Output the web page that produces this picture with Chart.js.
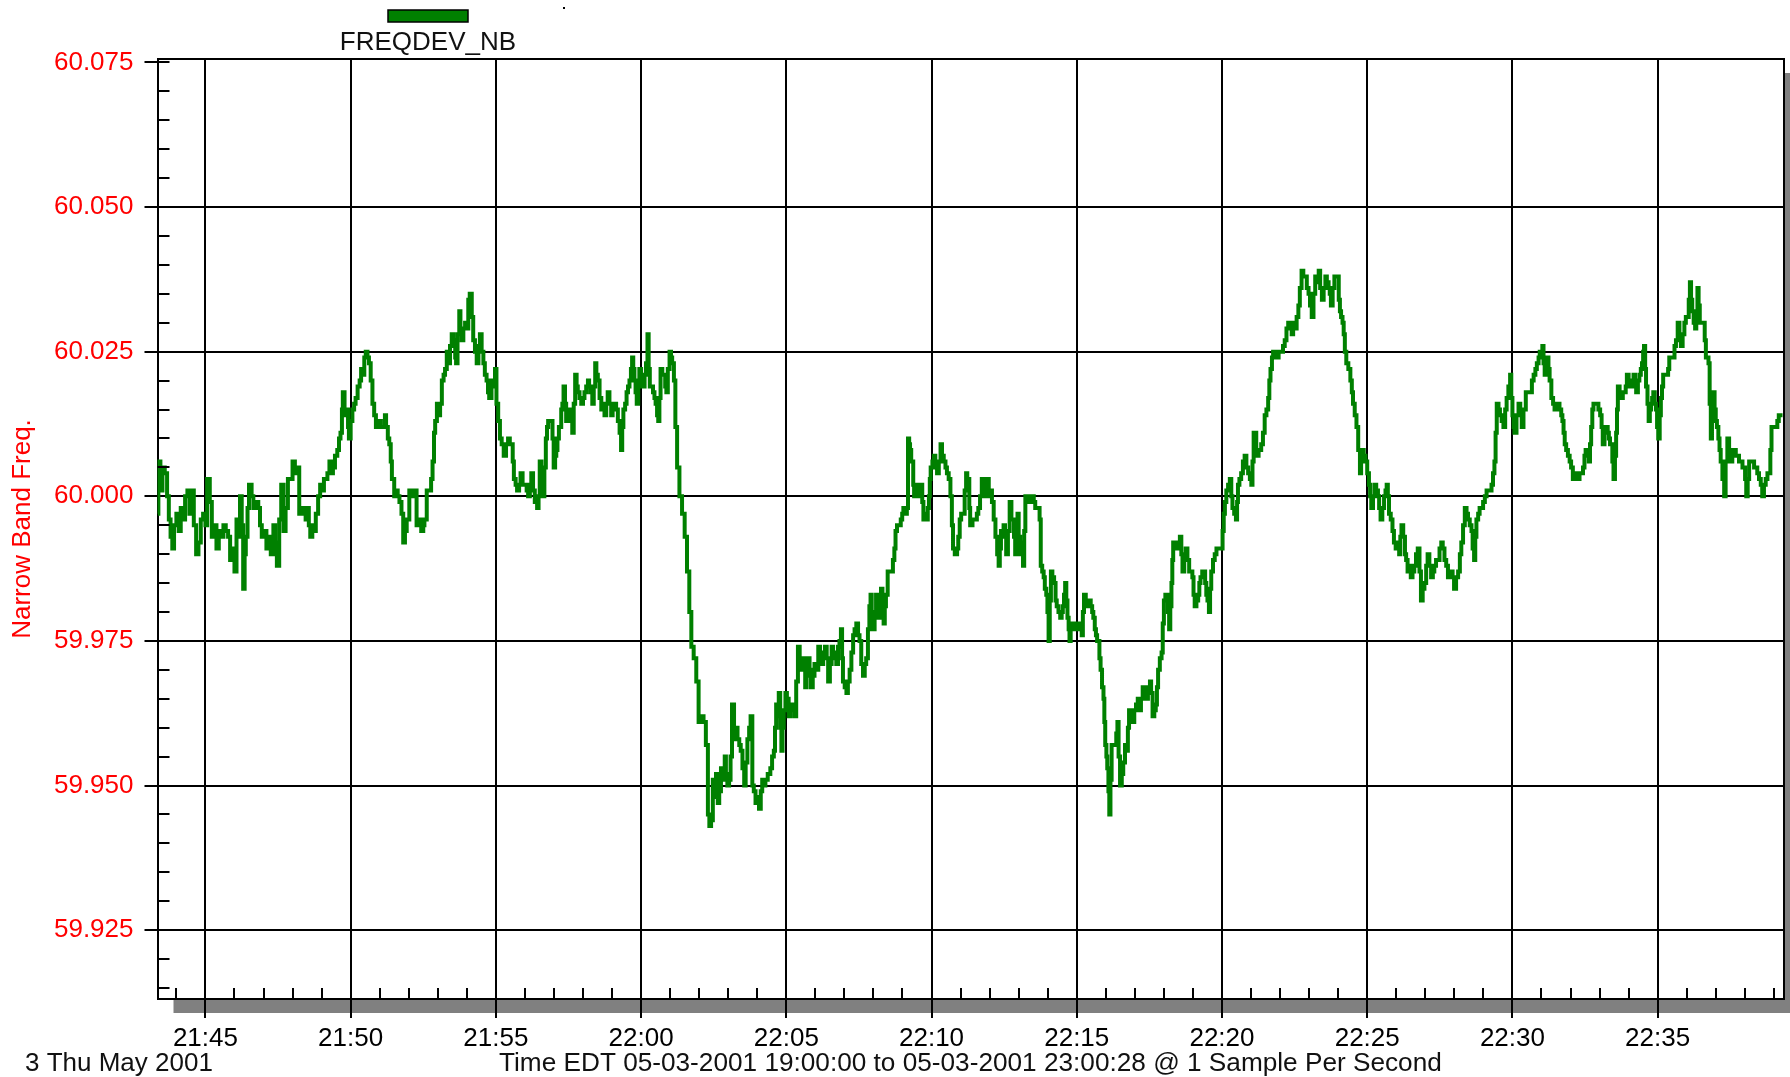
<!DOCTYPE html>
<html>
<head>
<meta charset="utf-8">
<title>FREQDEV_NB</title>
<script src="https://cdn.jsdelivr.net/npm/chart.js@4.4.1/dist/chart.umd.min.js"></script>
<style>
  html, body { margin: 0; padding: 0; background: #fff; }
  #grafico { display: block; }
</style>
</head>
<body>
<canvas id="grafico" width="1790" height="1077"></canvas>
<script>
// ============================================
// FREQDEV_NB - frequência banda estreita
// ============================================

// minutos depois das 21:00 (leitura do gráfico)
const minutos = [
    43.36, 43.38, 43.45, 43.52, 43.60, 43.68, 43.74, 43.80, 43.86, 43.92,
    44.00, 44.08, 44.15, 44.22, 44.30, 44.38, 44.45, 44.52, 44.60, 44.68,
    44.76, 44.84, 44.92, 45.00, 45.06, 45.15, 45.22, 45.30, 45.38, 45.46,
    45.55, 45.62, 45.70, 45.78, 45.85, 45.92, 46.00, 46.07, 46.15, 46.19,
    46.25, 46.30, 46.35, 46.39, 46.45, 46.50, 46.59, 46.65, 46.72, 46.82,
    46.88, 46.94, 47.02, 47.10, 47.18, 47.25, 47.34, 47.40, 47.46, 47.54,
    47.61, 47.69, 47.76, 47.84, 47.92, 48.00, 48.08, 48.15, 48.23, 48.30,
    48.38, 48.45, 48.50, 48.56, 48.61, 48.68, 48.73, 48.80, 48.88, 48.95,
    49.02, 49.08, 49.13, 49.20, 49.27, 49.33, 49.39, 49.46, 49.54, 49.60,
    49.65, 49.70, 49.73, 49.79, 49.85, 49.91, 49.94, 50.00, 50.06, 50.12,
    50.17, 50.24, 50.31, 50.36, 50.42, 50.47, 50.52, 50.58, 50.63, 50.69,
    50.75, 50.81, 50.87, 50.95, 51.04, 51.12, 51.18, 51.22, 51.28, 51.33,
    51.38, 51.42, 51.50, 51.56, 51.62, 51.68, 51.75, 51.81, 51.87, 51.93,
    52.02, 52.10, 52.19, 52.27, 52.35, 52.43, 52.50, 52.54, 52.62, 52.70,
    // 21:53 - 22:02
    52.77, 52.82, 52.87, 52.91, 52.97, 53.03, 53.08, 53.14, 53.20, 53.25,
    53.31, 53.36, 53.42, 53.48, 53.54, 53.60, 53.63, 53.68, 53.74, 53.78,
    53.82, 53.88, 53.94, 53.99, 54.05, 54.10, 54.17, 54.22, 54.28, 54.34,
    54.40, 54.45, 54.51, 54.57, 54.62, 54.68, 54.73, 54.77, 54.85, 54.92,
    54.97, 55.02, 55.08, 55.14, 55.20, 55.27, 55.35, 55.42, 55.48, 55.54,
    55.58, 55.62, 55.68, 55.73, 55.80, 55.85, 55.92, 56.00, 56.06, 56.11,
    56.17, 56.22, 56.28, 56.34, 56.42, 56.47, 56.51, 56.57, 56.62, 56.67,
    56.72, 56.76, 56.80, 56.86, 56.91, 56.95, 56.99, 57.04, 57.08, 57.12,
    57.17, 57.21, 57.25, 57.29, 57.33, 57.38, 57.42, 57.48, 57.54, 57.58,
    57.63, 57.68, 57.73, 57.78, 57.82, 57.88, 57.94, 58.00, 58.05, 58.11,
    58.17, 58.21, 58.25, 58.32, 58.37, 58.42, 58.46, 58.51, 58.57, 58.63,
    58.68, 58.74, 58.80, 58.85, 58.91, 58.97, 59.02, 59.08, 59.14, 59.20,
    59.26, 59.31, 59.35, 59.39, 59.45, 59.50, 59.55, 59.60, 59.65, 59.69,
    59.73, 59.77, 59.81, 59.85, 59.90, 59.94, 60.00, 60.06, 60.12, 60.17,
    60.22, 60.26, 60.30, 60.36, 60.41, 60.46, 60.50, 60.55, 60.59, 60.63,
    60.67, 60.73, 60.79, 60.83, 60.87, 60.92, 60.98, 61.03, 61.07, 61.13,
    61.18, 61.24, 61.32, 61.41, 61.50, 61.58, 61.66, 61.73, 61.81, 61.90,
    61.98, 62.06, 62.15, 62.23, 62.30,
    // 22:02 - 22:12
    62.35, 62.41, 62.47, 62.53, 62.58, 62.64, 62.69, 62.75, 62.82, 62.88,
    62.92, 62.97, 63.03, 63.08, 63.13, 63.20, 63.26, 63.32, 63.38, 63.43,
    63.49, 63.55, 63.60, 63.66, 63.72, 63.77, 63.83, 63.88, 63.94, 64.00,
    64.06, 64.12, 64.17, 64.23, 64.28, 64.36, 64.45, 64.51, 64.57, 64.61,
    64.65, 64.70, 64.74, 64.79, 64.83, 64.87, 64.91, 64.97, 65.02, 65.08,
    65.14, 65.21, 65.28, 65.34, 65.40, 65.46, 65.53, 65.59, 65.65, 65.70,
    65.74, 65.80, 65.85, 65.91, 65.97, 66.03, 66.10, 66.16, 66.22, 66.27,
    66.33, 66.39, 66.44, 66.50, 66.56, 66.61, 66.67, 66.72, 66.78, 66.83,
    66.88, 66.92, 66.95, 67.01, 67.07, 67.12, 67.18, 67.24, 67.30, 67.35,
    67.41, 67.47, 67.52, 67.58, 67.64, 67.70, 67.75, 67.81, 67.86, 67.90,
    67.94, 67.98, 68.04, 68.09, 68.13, 68.17, 68.22, 68.26, 68.31, 68.35,
    68.39, 68.43, 68.49, 68.56, 68.63, 68.67, 68.72, 68.76, 68.81, 68.88,
    68.94, 68.99, 69.03, 69.09, 69.15, 69.19, 69.23, 69.26, 69.30, 69.34,
    69.37, 69.40, 69.45, 69.49, 69.53, 69.57, 69.60, 69.63, 69.68, 69.72,
    69.78, 69.83, 69.87, 69.91, 69.94, 69.97, 70.03, 70.08, 70.13, 70.19,
    70.25, 70.31, 70.36, 70.42, 70.48, 70.53, 70.59, 70.65, 70.70, 70.74,
    70.80, 70.88, 70.92, 70.97, 71.02, 71.08, 71.14, 71.19, 71.23, 71.27,
    71.30, 71.33, 71.41, 71.50, 71.56, 71.61, 71.67, 71.73, 71.78,
    // 22:12 - 22:21
    71.84, 71.88, 71.97, 72.03, 72.08, 72.14, 72.20, 72.26, 72.31, 72.35,
    72.39, 72.44, 72.48, 72.53, 72.57, 72.63, 72.69, 72.75, 72.80, 72.84,
    72.88, 72.92, 72.96, 73.00, 73.05, 73.10, 73.15, 73.19, 73.23, 73.29,
    73.34, 73.40, 73.46, 73.52, 73.57, 73.64, 73.72, 73.76, 73.81, 73.86,
    73.90, 73.95, 73.99, 74.03, 74.07, 74.11, 74.16, 74.22, 74.27, 74.31,
    74.37, 74.43, 74.48, 74.52, 74.56, 74.60, 74.64, 74.68, 74.72, 74.75,
    74.79, 74.83, 74.89, 74.94, 75.00, 75.06, 75.12, 75.17, 75.21, 75.25,
    75.31, 75.37, 75.43, 75.48, 75.53, 75.57, 75.62, 75.66, 75.70, 75.74,
    75.78, 75.82, 75.87, 75.92, 75.95, 75.98, 76.02, 76.05, 76.09, 76.12,
    76.16, 76.20, 76.26, 76.31, 76.36, 76.40, 76.44, 76.49, 76.55, 76.60,
    76.66, 76.72, 76.76, 76.80, 76.86, 76.92, 76.98, 77.04, 77.10, 77.15,
    77.21, 77.27, 77.32, 77.38, 77.45, 77.52, 77.56, 77.61, 77.67, 77.72,
    77.76, 77.80, 77.86, 77.92, 77.96, 78.00, 78.05, 78.09, 78.14, 78.18,
    78.22, 78.26, 78.29, 78.32, 78.38, 78.43, 78.49, 78.55, 78.60, 78.64,
    78.70, 78.75, 78.81, 78.87, 78.92, 78.98, 79.02, 79.06, 79.12, 79.18,
    79.22, 79.26, 79.32, 79.38, 79.42, 79.46, 79.50, 79.55, 79.59, 79.63,
    79.69, 79.75, 79.81, 79.86, 79.92, 79.98, 80.02, 80.06, 80.10, 80.15,
    80.21, 80.27, 80.32, 80.36, 80.42, 80.48, 80.52, 80.55, 80.60, 80.66,
    80.72, 80.78, 80.84, 80.90, 80.96, 81.01, 81.05, 81.09,
    // 22:21 - 22:31
    81.18, 81.26, 81.35, 81.41, 81.47, 81.53, 81.59, 81.63, 81.67, 81.72,
    81.76, 81.82, 81.88, 81.95, 82.05, 82.10, 82.16, 82.22, 82.28, 82.34,
    82.40, 82.45, 82.51, 82.57, 82.63, 82.68, 82.74, 82.80, 82.86, 82.92,
    82.98, 83.03, 83.09, 83.15, 83.21, 83.27, 83.33, 83.38, 83.44, 83.50,
    83.56, 83.61, 83.67, 83.71, 83.75, 83.81, 83.87, 83.92, 83.96, 84.02,
    84.06, 84.10, 84.15, 84.19, 84.23, 84.28, 84.35, 84.42, 84.47, 84.51,
    84.57, 84.63, 84.69, 84.75, 84.79, 84.83, 84.88, 84.94, 85.00, 85.06,
    85.10, 85.14, 85.20, 85.25, 85.31, 85.37, 85.41, 85.46, 85.52, 85.58,
    85.63, 85.67, 85.71, 85.75, 85.81, 85.87, 85.92, 85.98, 86.04, 86.10,
    86.14, 86.18, 86.24, 86.30, 86.34, 86.39, 86.45, 86.50, 86.56, 86.62,
    86.68, 86.74, 86.80, 86.85, 86.91, 86.97, 87.03, 87.08, 87.14, 87.20,
    87.26, 87.31, 87.37, 87.43, 87.49, 87.55, 87.60, 87.66, 87.72, 87.78,
    87.84, 87.89, 87.94, 87.99, 88.06, 88.13, 88.19, 88.24, 88.30, 88.36,
    88.42, 88.47, 88.53, 88.59, 88.63, 88.68, 88.72, 88.76, 88.82, 88.87,
    88.93, 88.99, 89.05, 89.11, 89.20, 89.28, 89.33, 89.38, 89.42, 89.46,
    89.52, 89.57, 89.63, 89.69, 89.75, 89.80, 89.86, 89.92, 89.96, 90.00,
    90.04, 90.07, 90.14, 90.21, 90.27, 90.32, 90.38, 90.46, 90.54, 90.61,
    90.67, 90.73, 90.79, 90.84, 90.90, 90.94,
    // 22:31 - 22:39
    91.03, 91.07, 91.11, 91.15, 91.19, 91.24, 91.28, 91.34, 91.40, 91.45,
    91.51, 91.57, 91.62, 91.68, 91.72, 91.76, 91.80, 91.85, 91.91, 91.97,
    92.02, 92.08, 92.14, 92.20, 92.26, 92.31, 92.37, 92.43, 92.48, 92.52,
    92.58, 92.63, 92.67, 92.71, 92.75, 92.79, 92.85, 92.91, 92.96, 93.02,
    93.07, 93.11, 93.17, 93.23, 93.28, 93.32, 93.36, 93.40, 93.44, 93.48,
    93.53, 93.57, 93.60, 93.63, 93.69, 93.74, 93.80, 93.86, 93.90, 93.94,
    94.00, 94.05, 94.11, 94.17, 94.22, 94.26, 94.32, 94.37, 94.42, 94.46,
    94.50, 94.53, 94.57, 94.60, 94.65, 94.69, 94.73, 94.77, 94.81, 94.85,
    94.90, 94.94, 94.98, 95.02, 95.07, 95.11, 95.15, 95.19, 95.25, 95.31,
    95.36, 95.40, 95.46, 95.52, 95.58, 95.63, 95.69, 95.75, 95.80, 95.86,
    95.92, 95.97, 96.03, 96.07, 96.11, 96.15, 96.19, 96.24, 96.29, 96.33,
    96.37, 96.41, 96.45, 96.51, 96.57, 96.62, 96.66, 96.70, 96.75, 96.79,
    96.83, 96.87, 96.91, 96.96, 97.00, 97.04, 97.09, 97.13, 97.17, 97.23,
    97.29, 97.34, 97.40, 97.46, 97.52, 97.57, 97.63, 97.69, 97.75, 97.80,
    97.86, 97.92, 97.97, 98.01, 98.05, 98.10, 98.15, 98.21, 98.26, 98.32,
    98.37, 98.43, 98.49, 98.55, 98.60, 98.66, 98.72, 98.78, 98.83, 98.88,
    98.92, 99.00, 99.06, 99.12, 99.17, 99.22, 99.30
];

// frequência (Hz), mesma ordem de minutos
const frequencia = [
    59.997, 60.006, 60.001, 60.005, 60.004, 60.000, 59.996, 59.993, 59.991, 59.995,
    59.997, 59.994, 59.998, 59.996, 60.000, 60.001, 59.997, 60.001, 59.995, 59.990,
    59.992, 59.996, 59.997, 59.995, 60.003, 59.999, 59.993, 59.995, 59.991, 59.994,
    59.993, 59.995, 59.994, 59.993, 59.989, 59.991, 59.987, 59.996, 59.993, 60.000,
    59.995, 59.984, 59.990, 59.993, 59.998, 60.002, 60.000, 59.998, 59.999, 59.998,
    59.995, 59.993, 59.994, 59.991, 59.993, 59.990, 59.995, 59.992, 59.988, 59.996,
    60.002, 59.994, 59.998, 60.003, 60.003, 60.006, 60.004, 60.005, 59.997, 59.998,
    59.997, 59.996, 59.998, 59.995, 59.993, 59.995, 59.994, 59.997, 60.000, 60.002,
    60.001, 60.003, 60.003, 60.004, 60.006, 60.004, 60.005, 60.007, 60.008, 60.010,
    60.011, 60.015, 60.018, 60.014, 60.015, 60.012, 60.010, 60.013, 60.015, 60.016,
    60.017, 60.019, 60.020, 60.022, 60.021, 60.024, 60.025, 60.024, 60.023, 60.020,
    60.016, 60.014, 60.012, 60.013, 60.012, 60.012, 60.014, 60.012, 60.010, 60.009,
    60.006, 60.003, 60.000, 60.001, 60.000, 59.999, 59.997, 59.992, 59.994, 59.996,
    60.001, 60.000, 60.001, 59.995, 59.996, 59.994, 59.995, 59.996, 60.001, 60.001,
    // 21:53 - 22:02
    60.003, 60.006, 60.011, 60.013, 60.016, 60.014, 60.016, 60.020, 60.021, 60.022,
    60.025, 60.023, 60.026, 60.028, 60.027, 60.024, 60.023, 60.028, 60.032, 60.029,
    60.027, 60.029, 60.030, 60.029, 60.034, 60.035, 60.031, 60.027, 60.025, 60.023,
    60.026, 60.028, 60.025, 60.023, 60.021, 60.020, 60.018, 60.017, 60.020, 60.019,
    60.022, 60.016, 60.013, 60.010, 60.009, 60.007, 60.009, 60.010, 60.009, 60.009,
    60.006, 60.003, 60.002, 60.001, 60.002, 60.004, 60.002, 60.002, 60.001, 60.000,
    60.002, 60.004, 60.001, 59.999, 59.998, 60.000, 60.006, 60.003, 60.000, 60.005,
    60.010, 60.012, 60.013, 60.013, 60.013, 60.010, 60.005, 60.007, 60.008, 60.010,
    60.012, 60.012, 60.015, 60.016, 60.019, 60.016, 60.013, 60.014, 60.015, 60.013,
    60.011, 60.016, 60.021, 60.019, 60.018, 60.017, 60.016, 60.017, 60.018, 60.019,
    60.020, 60.019, 60.018, 60.016, 60.019, 60.023, 60.021, 60.020, 60.017, 60.015,
    60.016, 60.014, 60.016, 60.018, 60.016, 60.014, 60.015, 60.016, 60.015, 60.013,
    60.011, 60.008, 60.012, 60.015, 60.016, 60.018, 60.019, 60.020, 60.022, 60.024,
    60.022, 60.020, 60.018, 60.016, 60.019, 60.022, 60.020, 60.019, 60.021, 60.023,
    60.028, 60.022, 60.019, 60.019, 60.018, 60.017, 60.016, 60.014, 60.013, 60.017,
    60.022, 60.021, 60.021, 60.019, 60.018, 60.022, 60.025, 60.024, 60.023, 60.020,
    60.012, 60.005, 60.000, 59.997, 59.993, 59.987, 59.980, 59.974, 59.972, 59.968,
    59.961, 59.962, 59.961, 59.957, 59.945,
    // 22:02 - 22:12
    59.943, 59.944, 59.951, 59.948, 59.952, 59.947, 59.949, 59.953, 59.951, 59.955,
    59.952, 59.950, 59.951, 59.955, 59.964, 59.958, 59.960, 59.958, 59.957, 59.956,
    59.953, 59.950, 59.954, 59.958, 59.960, 59.962, 59.950, 59.949, 59.947, 59.948,
    59.946, 59.949, 59.951, 59.950, 59.951, 59.952, 59.953, 59.955, 59.956, 59.960,
    59.964, 59.962, 59.966, 59.960, 59.956, 59.960, 59.963, 59.966, 59.965, 59.962,
    59.963, 59.964, 59.962, 59.968, 59.974, 59.971, 59.970, 59.972, 59.967, 59.969,
    59.972, 59.970, 59.967, 59.969, 59.971, 59.970, 59.974, 59.972, 59.971, 59.973,
    59.974, 59.972, 59.968, 59.971, 59.974, 59.972, 59.973, 59.971, 59.974, 59.975,
    59.977, 59.972, 59.968, 59.967, 59.966, 59.968, 59.970, 59.973, 59.976, 59.977,
    59.978, 59.976, 59.975, 59.971, 59.969, 59.971, 59.972, 59.977, 59.981, 59.983,
    59.980, 59.977, 59.980, 59.983, 59.981, 59.979, 59.982, 59.984, 59.981, 59.978,
    59.981, 59.983, 59.987, 59.987, 59.987, 59.989, 59.991, 59.994, 59.995, 59.995,
    59.996, 59.997, 59.998, 59.997, 59.998, 60.010, 60.009, 60.008, 60.006, 60.006,
    60.002, 60.000, 60.001, 60.002, 60.001, 60.000, 60.001, 60.002, 59.999, 59.996,
    59.997, 59.996, 59.998, 60.000, 60.003, 60.005, 60.006, 60.007, 60.005, 60.004,
    60.006, 60.009, 60.007, 60.006, 60.005, 60.004, 60.003, 60.000, 59.995, 59.991,
    59.990, 59.991, 59.993, 59.996, 59.997, 59.997, 60.001, 60.004, 60.003, 60.003,
    59.998, 59.995, 59.996, 59.996, 59.997, 59.998, 60.000, 60.003, 60.001,
    // 22:12 - 22:21
    60.000, 60.003, 60.000, 60.001, 59.999, 59.996, 59.993, 59.990, 59.988, 59.991,
    59.994, 59.993, 59.995, 59.993, 59.990, 59.994, 59.999, 59.996, 59.996, 59.993,
    59.990, 59.994, 59.997, 59.993, 59.990, 59.992, 59.988, 59.994, 60.000, 59.999,
    59.999, 60.000, 60.000, 59.999, 59.998, 59.998, 59.996, 59.988, 59.987, 59.986,
    59.984, 59.983, 59.980, 59.975, 59.982, 59.987, 59.986, 59.985, 59.982, 59.981,
    59.980, 59.979, 59.980, 59.981, 59.983, 59.985, 59.982, 59.979, 59.977, 59.975,
    59.977, 59.978, 59.977, 59.977, 59.978, 59.978, 59.977, 59.976, 59.980, 59.983,
    59.982, 59.981, 59.982, 59.981, 59.980, 59.979, 59.977, 59.976, 59.975, 59.975,
    59.972, 59.970, 59.967, 59.965, 59.961, 59.957, 59.955, 59.953, 59.949, 59.945,
    59.951, 59.957, 59.957, 59.957, 59.959, 59.961, 59.955, 59.950, 59.952, 59.954,
    59.957, 59.956, 59.960, 59.963, 59.962, 59.961, 59.963, 59.964, 59.965, 59.963,
    59.965, 59.967, 59.966, 59.965, 59.967, 59.968, 59.966, 59.962, 59.963, 59.964,
    59.967, 59.970, 59.972, 59.973, 59.978, 59.982, 59.983, 59.983, 59.980, 59.977,
    59.981, 59.985, 59.989, 59.992, 59.991, 59.991, 59.992, 59.993, 59.990, 59.987,
    59.989, 59.991, 59.989, 59.987, 59.987, 59.986, 59.983, 59.981, 59.982, 59.983,
    59.985, 59.986, 59.987, 59.987, 59.985, 59.983, 59.982, 59.980, 59.984, 59.987,
    59.989, 59.990, 59.991, 59.991, 59.991, 59.991, 59.994, 59.997, 59.999, 60.001,
    60.002, 60.003, 60.000, 59.998, 59.997, 59.996, 59.999, 60.002, 60.003, 60.004,
    60.006, 60.007, 60.005, 60.004, 60.003, 60.002, 60.006, 60.011,
    // 22:21 - 22:31
    60.007, 60.008, 60.009, 60.011, 60.014, 60.015, 60.017, 60.020, 60.022, 60.024,
    60.025, 60.024, 60.024, 60.025, 60.025, 60.026, 60.027, 60.029, 60.030, 60.029,
    60.028, 60.030, 60.029, 60.031, 60.033, 60.036, 60.039, 60.038, 60.038, 60.036,
    60.035, 60.033, 60.031, 60.035, 60.038, 60.037, 60.039, 60.036, 60.034, 60.036,
    60.038, 60.037, 60.036, 60.035, 60.033, 60.036, 60.038, 60.038, 60.038, 60.034,
    60.032, 60.031, 60.030, 60.028, 60.025, 60.023, 60.022, 60.020, 60.018, 60.016,
    60.014, 60.012, 60.008, 60.004, 60.006, 60.008, 60.007, 60.006, 60.004, 60.002,
    60.000, 59.998, 60.000, 60.002, 60.001, 60.000, 59.998, 59.996, 59.998, 60.000,
    60.001, 60.002, 60.000, 59.997, 59.996, 59.994, 59.992, 59.991, 59.992, 59.990,
    59.993, 59.995, 59.993, 59.990, 59.989, 59.987, 59.988, 59.986, 59.987, 59.988,
    59.990, 59.991, 59.987, 59.982, 59.984, 59.985, 59.988, 59.990, 59.988, 59.986,
    59.987, 59.988, 59.989, 59.989, 59.991, 59.992, 59.991, 59.989, 59.988, 59.986,
    59.987, 59.987, 59.986, 59.984, 59.986, 59.987, 59.990, 59.992, 59.995, 59.998,
    59.997, 59.996, 59.995, 59.994, 59.991, 59.989, 59.993, 59.996, 59.997, 59.998,
    59.998, 59.999, 60.000, 60.001, 60.001, 60.002, 60.004, 60.006, 60.011, 60.016,
    60.015, 60.014, 60.013, 60.012, 60.015, 60.017, 60.019, 60.021, 60.017, 60.014,
    60.012, 60.011, 60.014, 60.016, 60.014, 60.012, 60.015, 60.018, 60.018, 60.018,
    60.020, 60.021, 60.022, 60.023, 60.024, 60.025,
    // 22:31 - 22:39
    60.026, 60.023, 60.021, 60.023, 60.024, 60.022, 60.020, 60.017, 60.016, 60.015,
    60.016, 60.016, 60.015, 60.014, 60.013, 60.011, 60.009, 60.008, 60.007, 60.006,
    60.005, 60.003, 60.003, 60.004, 60.003, 60.004, 60.004, 60.005, 60.007, 60.008,
    60.007, 60.006, 60.009, 60.012, 60.015, 60.016, 60.016, 60.016, 60.015, 60.014,
    60.012, 60.009, 60.011, 60.012, 60.011, 60.010, 60.009, 60.009, 60.006, 60.003,
    60.007, 60.011, 60.015, 60.019, 60.018, 60.017, 60.018, 60.018, 60.019, 60.021,
    60.020, 60.019, 60.020, 60.021, 60.019, 60.018, 60.020, 60.021, 60.022, 60.023,
    60.025, 60.026, 60.022, 60.019, 60.016, 60.013, 60.015, 60.016, 60.017, 60.018,
    60.016, 60.015, 60.012, 60.010, 60.014, 60.017, 60.019, 60.021, 60.021, 60.021,
    60.022, 60.024, 60.024, 60.024, 60.026, 60.027, 60.030, 60.028, 60.026, 60.028,
    60.030, 60.031, 60.031, 60.034, 60.037, 60.034, 60.032, 60.030, 60.029, 60.032,
    60.036, 60.033, 60.030, 60.030, 60.030, 60.027, 60.024, 60.024, 60.023, 60.016,
    60.010, 60.014, 60.018, 60.015, 60.013, 60.012, 60.010, 60.008, 60.006, 60.003,
    60.000, 60.006, 60.010, 60.008, 60.006, 60.007, 60.008, 60.007, 60.007, 60.006,
    60.006, 60.005, 60.005, 60.003, 60.000, 60.003, 60.006, 60.006, 60.006, 60.005,
    60.005, 60.004, 60.003, 60.002, 60.000, 60.002, 60.003, 60.004, 60.004, 60.008,
    60.012, 60.012, 60.012, 60.013, 60.014, 60.014, 60.014
];

// eixos
const minutosRotulo = [45, 50, 55, 60, 65, 70, 75, 80, 85, 90, 95];
const rotulosX = ['21:45', '21:50', '21:55', '22:00', '22:05', '22:10', '22:15', '22:20', '22:25', '22:30', '22:35'];
const valoresY = [59.925, 59.950, 59.975, 60.000, 60.025, 60.050, 60.075];
const rotulosY = ['59.925', '59.950', '59.975', '60.000', '60.025', '60.050', '60.075'];

const nomeSerie = 'FREQDEV_NB';
const tituloY = 'Narrow Band Freq.';
const rodapeData = '3 Thu May 2001';
const rodapeTempo = 'Time EDT 05-03-2001 19:00:00 to 05-03-2001 23:00:28 @ 1 Sample Per Second';

const FONTE = '"Liberation Sans", Arial, sans-serif';
const VERDE = '#008000';
const VERMELHO = '#ff0000';

if (minutos.length !== frequencia.length) {
    console.error('❌ tamanhos diferentes:', minutos.length, frequencia.length);
}

// marcas menores: 1 min no eixo X, 0.005 Hz no eixo Y
const marcasX = [];
for (let m = 44; m <= 99; m++) {
    if (m % 5 !== 0) marcasX.push(m);
}
const marcasY = [];
for (let k = 59915; k <= 60070; k += 5) {
    if (k % 25 !== 0) marcasY.push(k / 1000);
}

// ========== MOLDURA, SOMBRA, LEGENDA E RODAPÉ ==========
const moldura = {
    id: 'moldura',
    beforeDraw(chart) {
        const { ctx, chartArea: a, width, height } = chart;
        ctx.save();
        ctx.fillStyle = '#ffffff';
        ctx.fillRect(0, 0, width, height);
        // sombra cinza embaixo e à direita
        ctx.fillStyle = '#808080';
        ctx.fillRect(a.left + 16, a.bottom, a.right + 6 - (a.left + 16), 14);
        ctx.fillRect(a.right, a.top + 14, 6, a.bottom - a.top);
        ctx.restore();
    },
    afterDatasetsDraw(chart) {
        const { ctx, chartArea: a, scales } = chart;
        ctx.save();
        ctx.strokeStyle = '#000';
        ctx.lineWidth = 2;
        ctx.beginPath();
        ctx.moveTo(a.left, a.top);
        ctx.lineTo(a.right, a.top);
        ctx.lineTo(a.right, a.bottom);
        ctx.stroke();

        ctx.beginPath();
        marcasY.forEach(v => {
            const py = Math.round(scales.y.getPixelForValue(v));
            ctx.moveTo(a.left, py);
            ctx.lineTo(a.left + 12, py);
        });
        marcasX.forEach(v => {
            const px = Math.round(scales.x.getPixelForValue(v));
            ctx.moveTo(px, a.bottom);
            ctx.lineTo(px, a.bottom - 11);
        });
        // marca do topo (60.075) cruza o eixo
        const pTopo = Math.round(scales.y.getPixelForValue(valoresY[valoresY.length - 1]));
        ctx.moveTo(a.left, pTopo);
        ctx.lineTo(a.left + 12, pTopo);
        ctx.stroke();
        ctx.restore();
    },
    afterDraw(chart) {
        const { ctx } = chart;
        ctx.save();
        // legenda
        ctx.fillStyle = VERDE;
        ctx.fillRect(388, 10, 80, 12);
        ctx.strokeStyle = '#000';
        ctx.lineWidth = 1.5;
        ctx.strokeRect(388, 10, 80, 12);
        ctx.fillStyle = '#000';
        ctx.fillRect(563, 7, 2, 2);

        ctx.font = '26px ' + FONTE;
        ctx.fillStyle = '#111';
        ctx.textBaseline = 'middle';
        ctx.textAlign = 'center';
        ctx.fillText(nomeSerie, 428, 43);

        // rodapé
        ctx.textAlign = 'left';
        ctx.fillText(rodapeData, 25, 1064);
        ctx.font = '26.2px ' + FONTE;
        ctx.fillText(rodapeTempo, 499, 1064);
        ctx.restore();
    }
};

// ========== GRÁFICO ==========
const pontos = minutos.map((m, i) => ({ x: m, y: frequencia[i] }));

new Chart(document.getElementById('grafico'), {
    type: 'line',
    data: {
        datasets: [{
            label: nomeSerie,
            data: pontos,
            borderColor: VERDE,
            backgroundColor: VERDE,
            borderWidth: 4,
            pointRadius: 0,
            stepped: true,
            fill: false
        }]
    },
    options: {
        responsive: false,
        animation: false,
        layout: { padding: { top: 59, right: 6, left: 0, bottom: 0 } },
        plugins: {
            legend: { display: false },
            tooltip: { enabled: false }
        },
        scales: {
            x: {
                type: 'linear',
                min: 43.35,
                max: 99.35,
                afterBuildTicks: s => { s.ticks = minutosRotulo.map(v => ({ value: v })); },
                afterFit: s => { s.height = 78; },
                grid: { color: '#000', lineWidth: 2, tickLength: 19 },
                border: { color: '#000', width: 2 },
                ticks: {
                    callback: (v, i) => rotulosX[i],
                    color: '#000',
                    font: { family: FONTE, size: 26 },
                    padding: 5,
                    maxRotation: 0,
                    autoSkip: false
                }
            },
            y: {
                min: 59.9131,
                max: 60.0756,
                afterBuildTicks: s => { s.ticks = valoresY.map(v => ({ value: v })); },
                afterFit: s => { s.width = 157.5; },
                grid: {
                    // a linha de 60.075 some junto da borda de cima
                    color: c => (c.tick && c.tick.value >= 60.07 ? 'rgba(0,0,0,0)' : '#000'),
                    tickColor: '#000',
                    lineWidth: 2,
                    tickLength: 13
                },
                border: { color: '#000', width: 2 },
                ticks: {
                    callback: (v, i) => rotulosY[i],
                    color: VERMELHO,
                    font: { family: FONTE, size: 26 },
                    padding: 11
                },
                title: {
                    display: true,
                    text: tituloY,
                    color: VERMELHO,
                    font: { family: FONTE, size: 26 },
                    padding: { top: 7, bottom: 0 }
                }
            }
        }
    },
    plugins: [moldura]
});
</script>
</body>
</html>
